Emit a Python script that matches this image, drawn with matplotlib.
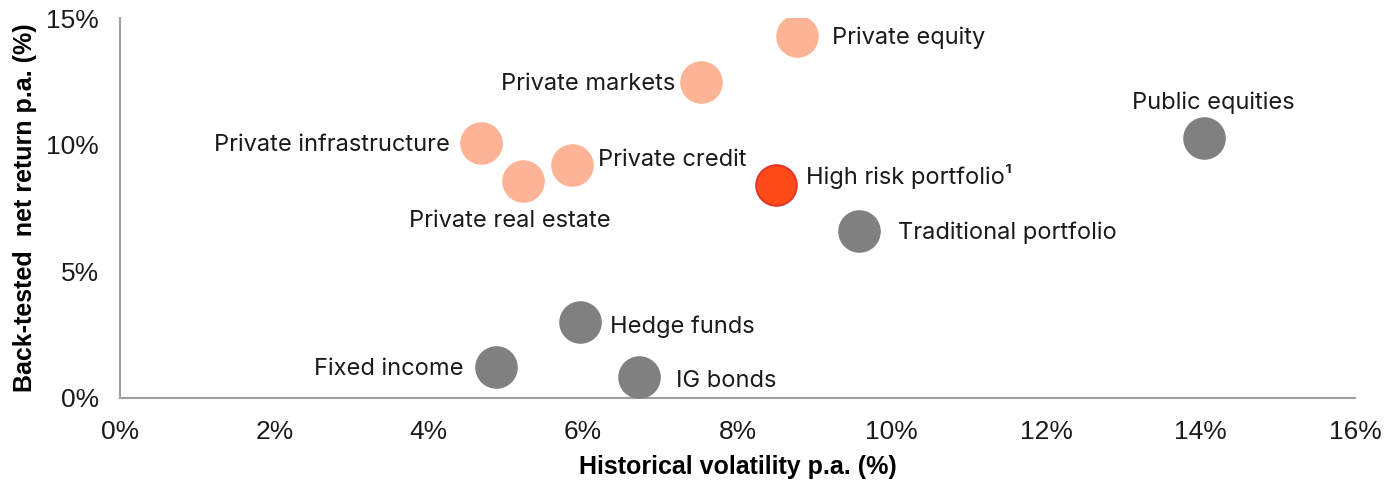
import matplotlib
matplotlib.use("Agg")
import matplotlib.pyplot as plt
from matplotlib.ticker import FuncFormatter

names = ["Private equity", "Private markets", "Private infrastructure", "Private real estate",
         "Private credit", "High risk portfolio\u00b9", "Traditional portfolio", "Public equities",
         "Hedge funds", "Fixed income", "IG bonds"]
volatility = [8.77, 7.53, 4.68, 5.22, 5.86, 8.50, 9.57, 14.04, 5.96, 4.87, 6.72]
returns = [14.3, 12.47, 10.07, 8.57, 9.2, 8.41, 6.59, 10.26, 3.0, 1.22, 0.83]
groups = ["private", "private", "private", "private", "private", "high",
          "public", "public", "public", "public", "public"]

colors = {"private": "#FDB396", "high": "#FF4A1A", "public": "#808080"}
edges = {"private": "#FDB396", "high": "#E0372A", "public": "#808080"}
# label offsets in pixels (dx, dy, ha)
offsets = [(35, -2, "left"), (-26, -2, "right"), (-31, -2, "right"), (-13, -40, "center"),
           (26, 5, "left"), (30, 8, "left"), (39, -2, "left"), (10, 35, "center"),
           (30, -5, "left"), (-32, -2, "right"), (37, -4, "left")]

fig = plt.figure(figsize=(13.98, 4.83), dpi=100)
ax = fig.add_axes([0.0858, 0.176, 0.8834, 0.7867])

for x, y, g in zip(volatility, returns, groups):
    ax.scatter([x], [y], s=850, color=colors[g], edgecolors=edges[g], linewidths=1.5, zorder=3)

for n, x, y, (dx, dy, ha) in zip(names, volatility, returns, offsets):
    ax.annotate(n, (x, y), xytext=(dx, dy), textcoords="offset pixels", ha=ha, va="center",
                fontsize=17, family="Inter", color="#1a1a1a")

ax.set_xlim(0, 16)
ax.set_ylim(0, 15)
ax.set_xticks(range(0, 17, 2))
ax.set_yticks([0, 5, 10, 15])
ax.xaxis.set_major_formatter(FuncFormatter(lambda v, p: f"{v:.0f}%"))
ax.yaxis.set_major_formatter(FuncFormatter(lambda v, p: f"{v:.0f}%"))
ax.tick_params(length=0, labelsize=19, colors="#1a1a1a")
for lbl in ax.get_xticklabels() + ax.get_yticklabels():
    lbl.set_family("Liberation Sans")
ax.tick_params(axis="x", pad=16)
ax.tick_params(axis="y", pad=15)
for s in ["top", "right"]:
    ax.spines[s].set_visible(False)
for s in ["left", "bottom"]:
    ax.spines[s].set_color("#A0A0A0")
    ax.spines[s].set_linewidth(1.5)

ax.set_xlabel("Historical volatility p.a. (%)", fontsize=18, fontweight="bold",
              family="Liberation Sans", labelpad=8)
ax.set_ylabel("Back-tested  net return p.a. (%)", fontsize=18, fontweight="bold",
              family="Liberation Sans", labelpad=7)

fig.savefig("out.png", dpi=100)
